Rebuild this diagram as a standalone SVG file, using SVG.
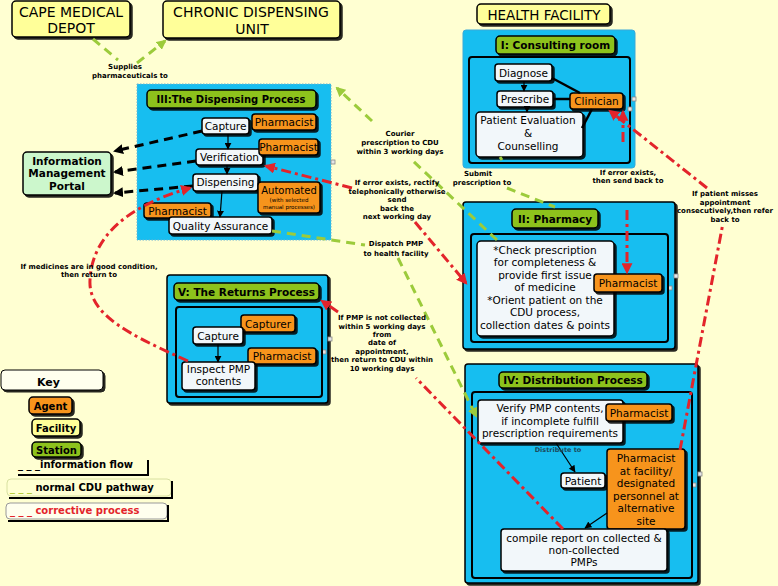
<svg xmlns="http://www.w3.org/2000/svg" width="778" height="586" viewBox="0 0 778 586">
<defs>
<filter id="sh" x="-10%" y="-10%" width="130%" height="140%">
<feFlood flood-color="#000" flood-opacity="0.85"/>
<feComposite in2="SourceAlpha" operator="in"/>
<feOffset dx="2" dy="2"/>
<feMerge><feMergeNode/><feMergeNode in="SourceGraphic"/></feMerge>
</filter>
<marker id="ag" viewBox="0 0 10 10" refX="8" refY="5" markerWidth="10" markerHeight="10" markerUnits="userSpaceOnUse" orient="auto"><path d="M0,0 L10,5 L0,10 z" fill="#9CCB3B"/></marker>
<marker id="ab" viewBox="0 0 10 10" refX="8" refY="5" markerWidth="10" markerHeight="10" markerUnits="userSpaceOnUse" orient="auto"><path d="M0,0 L10,5 L0,10 z" fill="#000"/></marker>
<marker id="ar" viewBox="0 0 10 10" refX="8" refY="5" markerWidth="11" markerHeight="11" markerUnits="userSpaceOnUse" orient="auto"><path d="M0,0 L10,5 L0,10 z" fill="#E3242B"/></marker>
<marker id="as" viewBox="0 0 10 10" refX="9" refY="5" markerWidth="7" markerHeight="7" markerUnits="userSpaceOnUse" orient="auto"><path d="M0,0 L10,5 L0,10 z" fill="#000"/></marker>
<style>
text{font-family:"DejaVu Sans",Verdana,sans-serif;font-size:10.5px;text-anchor:middle;fill:#000}
.b{font-weight:bold}
.lb{font-size:7px;font-weight:bold}
.fac{fill:#FFFF99;stroke:#000;stroke-width:1.5}
.st{fill:#8DC21F;stroke:#000;stroke-width:1.5}
.agt{fill:#F7941D;stroke:#000;stroke-width:1.5}
.nd{fill:#F2F7FA;stroke:#000;stroke-width:1.5}
.zone{fill:#17BEF0;stroke:#000;stroke-width:1.5}
.inr{fill:#17BEF0;stroke:#000;stroke-width:2}
.hd{fill:#E6E6E6;stroke:#888;stroke-width:0.8}
.gr{fill:none;stroke:#9CCB3B;stroke-width:3;stroke-dasharray:9 6}
.bk{fill:none;stroke:#000;stroke-width:3;stroke-dasharray:9 6}
.rd{fill:none;stroke:#E3242B;stroke-width:3;stroke-dasharray:10 4 3 4}
.sl{fill:none;stroke:#000;stroke-width:2.5}
.sa{fill:none;stroke:#000;stroke-width:1.2}
.kt{font-size:10px;font-weight:bold;text-anchor:start}
</style>
</defs>
<rect x="0" y="0" width="778" height="586" fill="#FFFFD2"/>

<g id="n-cape"><rect class="fac" x="12" y="1" width="118" height="36" rx="4" filter="url(#sh)"/><text x="71" y="17" style="font-size:14px">CAPE MEDICAL</text><text x="71" y="33" style="font-size:14px">DEPOT</text></g>
<g id="n-cdu"><rect class="fac" x="163" y="1" width="177" height="37" rx="4" filter="url(#sh)"/><text x="251" y="17" style="font-size:14px">CHRONIC DISPENSING</text><text x="252" y="34" style="font-size:14px">UNIT</text></g>
<g id="n-hf"><rect class="fac" x="477" y="4" width="133" height="20" rx="4" filter="url(#sh)"/><text x="544" y="20" style="font-size:13.5px">HEALTH FACILITY</text></g>

<g id="n-imp"><rect x="23" y="152" width="88" height="43" rx="4" fill="#CCF7CC" stroke="#000" stroke-width="1.5" filter="url(#sh)"/><text class="b" x="67" y="165">Information</text><text class="b" x="67" y="177">Management</text><text class="b" x="67" y="190">Portal</text></g>

<g id="z-dispensing">
<rect x="137" y="84" width="194" height="156" fill="#17BEF0" stroke="#6FB3CF" stroke-width="1" stroke-dasharray="1.5 1.5"/>
<rect class="hd" x="331" y="160" width="4" height="4"/>
<g id="n-disp-head"><rect class="st" x="147" y="90" width="169" height="18" rx="4" filter="url(#sh)"/><text class="b" x="231" y="103" style="font-size:10px">III:The Dispensing Process</text></g>
<g id="n-d-capture"><rect class="nd" x="202" y="118" width="47" height="16" rx="3" fill="#fff" filter="url(#sh)"/><text x="225.5" y="130">Capture</text></g>
<g id="n-d-ph1"><rect class="agt" x="252" y="114" width="64" height="16" rx="3" filter="url(#sh)"/><text x="284" y="126">Pharmacist</text></g>
<g id="n-d-verif"><rect class="nd" x="196" y="149" width="67" height="16" rx="3" filter="url(#sh)"/><text x="229.5" y="161">Verification</text></g>
<g id="n-d-ph2"><rect class="agt" x="259" y="139" width="59" height="16" rx="3" filter="url(#sh)"/><text x="288.5" y="151">Pharmacist</text></g>
<g id="n-d-disp"><rect class="nd" x="193" y="174" width="65" height="17" rx="3" filter="url(#sh)"/><text x="225.5" y="186">Dispensing</text></g>
<g id="n-d-auto"><rect class="agt" x="258" y="182" width="62" height="31" rx="3" filter="url(#sh)"/><text x="289" y="194" style="font-size:10px">Automated</text><text x="289" y="202" style="font-size:5.5px">(with selected</text><text x="289" y="209" style="font-size:5.5px">manual processes)</text></g>
<g id="n-d-ph3"><rect class="agt" x="144" y="203" width="67" height="15" rx="3" filter="url(#sh)"/><text x="177.5" y="214.5">Pharmacist</text></g>
<g id="n-d-qa"><rect class="nd" x="169" y="217" width="103" height="17" rx="3" filter="url(#sh)"/><text x="220.5" y="229.5">Quality Assurance</text></g>
</g>

<g id="z-consulting">
<rect x="463" y="30" width="172" height="138" rx="3" fill="#17BEF0" stroke="#3AA9D9" stroke-width="1"/>
<rect class="inr" x="469" y="57" width="161" height="106" rx="3"/>
<rect class="hd" x="632" y="97" width="4" height="4"/><rect class="hd" x="628" y="107" width="4" height="4"/>
<g id="n-c-head"><rect class="st" x="496" y="36" width="119" height="18" rx="4" filter="url(#sh)"/><text class="b" x="555.5" y="49">I: Consulting room</text></g>
<g id="n-c-diag"><rect class="nd" x="495" y="64" width="57" height="17" rx="3" filter="url(#sh)"/><text x="523.5" y="76.5">Diagnose</text></g>
<g id="n-c-presc"><rect class="nd" x="497" y="91" width="56" height="16" rx="3" filter="url(#sh)"/><text x="525" y="103">Prescribe</text></g>
<g id="n-c-eval"><rect class="nd" x="476" y="112" width="107" height="45" rx="4" filter="url(#sh)"/><text x="528" y="124">Patient Evaluation</text><text x="528" y="137">&amp;</text><text x="528" y="150">Counselling</text></g>
<g id="n-c-clin"><rect class="agt" x="570" y="93" width="53" height="16" rx="3" filter="url(#sh)"/><text x="596.5" y="105">Clinician</text></g>
</g>

<g id="z-pharmacy">
<rect class="zone" x="463" y="202" width="212" height="147" rx="3" filter="url(#sh)"/>
<rect class="hd" x="674" y="274" width="4" height="4"/><rect class="hd" x="668" y="286" width="4" height="4"/>
<g id="n-p-head"><rect class="st" x="512" y="209" width="86" height="19" rx="4" filter="url(#sh)"/><text class="b" x="555" y="222.5">II: Pharmacy</text></g>
<rect class="inr" x="471" y="234" width="197" height="108" rx="3"/>
<g id="n-p-task"><rect class="nd" x="477" y="241" width="137" height="95" rx="4" filter="url(#sh)"/>
<text x="545" y="253.5">*Check prescription</text><text x="545" y="266">for completeness &amp;</text><text x="545" y="278.5">provide first issue</text><text x="545" y="291">of medicine</text><text x="545" y="303.5">*Orient patient on the</text><text x="545" y="316">CDU process,</text><text x="545" y="328.5">collection dates &amp; points</text></g>
<g id="n-p-ph"><rect class="agt" x="594" y="274" width="68" height="18" rx="3" filter="url(#sh)"/><text x="628" y="287">Pharmacist</text></g>
</g>

<g id="z-returns">
<rect class="zone" x="167" y="275" width="161" height="128" rx="3" filter="url(#sh)"/>
<rect class="hd" x="328" y="337" width="4" height="4"/><rect class="hd" x="322" y="350" width="4" height="4"/>
<g id="n-r-head"><rect class="st" x="174" y="283" width="145" height="17" rx="4" filter="url(#sh)"/><text class="b" x="246.5" y="295.5">V: The Returns Process</text></g>
<rect class="inr" x="176" y="307" width="146" height="90" rx="3"/>
<g id="n-r-capturer"><rect class="agt" x="241" y="315" width="54" height="17" rx="3" filter="url(#sh)"/><text x="268" y="327.5">Capturer</text></g>
<g id="n-r-capture"><rect class="nd" x="193" y="327" width="50" height="17" rx="3" filter="url(#sh)"/><text x="218" y="339.5">Capture</text></g>
<g id="n-r-ph"><rect class="agt" x="248" y="348" width="68" height="16" rx="3" filter="url(#sh)"/><text x="282" y="360">Pharmacist</text></g>
<g id="n-r-inspect"><rect class="nd" x="182" y="362" width="73" height="28" rx="3" filter="url(#sh)"/><text x="218.5" y="373">Inspect PMP</text><text x="218.5" y="385">contents</text></g>
</g>

<g id="z-distribution">
<rect class="zone" x="465" y="364" width="233" height="219" rx="3" filter="url(#sh)"/>
<rect class="hd" x="698" y="472" width="4" height="4"/><rect class="hd" x="692" y="483" width="4" height="4"/>
<g id="n-i-head"><rect class="st" x="499" y="372" width="148" height="16" rx="4" filter="url(#sh)"/><text class="b" x="573" y="384">IV: Distribution Process</text></g>
<rect class="inr" x="472" y="392" width="220" height="186" rx="3"/>
<g id="n-i-verify"><rect class="nd" x="478" y="400" width="145" height="43" rx="3" filter="url(#sh)"/><text x="550" y="412">Verify PMP contents,</text><text x="550" y="425">if incomplete fulfill</text><text x="550" y="437">prescription requirements</text></g>
<g id="n-i-ph"><rect class="agt" x="606" y="404" width="66" height="17" rx="3" filter="url(#sh)"/><text x="639" y="416.5">Pharmacist</text></g>
<g id="n-i-patient"><rect class="nd" x="561" y="473" width="44" height="15" rx="3" filter="url(#sh)"/><text x="583" y="484.5">Patient</text></g>
<g id="n-i-phfac"><rect class="agt" x="607" y="449" width="78" height="80" rx="3" filter="url(#sh)"/><text x="646" y="462">Pharmacist</text><text x="646" y="475">at facility/</text><text x="646" y="487">designated</text><text x="646" y="500">personnel at</text><text x="646" y="512">alternative</text><text x="646" y="525">site</text></g>
<g id="n-i-report"><rect class="nd" x="501" y="529" width="166" height="42" rx="3" filter="url(#sh)"/><text x="584" y="542">compile report on collected &amp;</text><text x="584" y="554">non-collected</text><text x="584" y="566">PMPs</text></g>
</g>

<g id="key">
<g id="k-key"><rect x="1" y="370" width="102" height="20" rx="4" fill="#FFFFEE" stroke="#000" stroke-width="1" filter="url(#sh)"/><text class="b" x="48.5" y="386" style="font-size:11px">Key</text></g>
<g id="k-agent"><rect class="agt" x="29" y="397" width="43" height="17" rx="4" filter="url(#sh)"/><text class="b" x="50.5" y="409.5" style="font-size:10px">Agent</text></g>
<g id="k-fac"><rect class="fac" x="32" y="419" width="48" height="17" rx="4" filter="url(#sh)"/><text class="b" x="56" y="431.5" style="font-size:10px">Facility</text></g>
<g id="k-station"><rect class="st" x="32" y="442" width="49" height="15" rx="4" filter="url(#sh)"/><text class="b" x="56.5" y="453.5" style="font-size:10px">Station</text></g>
<g id="k-info"><path d="M148,460 L148,475 L18,475" fill="none" stroke="#000" stroke-width="2"/><text class="kt" x="18" y="468">_ _ _information flow</text></g>
<g id="k-normal"><rect x="7" y="479" width="164" height="17" rx="4" fill="#FFFFD2" stroke="#D8E0A0" stroke-width="1"/><path d="M172,481 L172,498 L9,498" fill="none" stroke="#000" stroke-width="2"/><text class="kt" x="10" y="491"><tspan fill="#B8D040">_ _ _ </tspan>normal CDU pathway</text></g>
<g id="k-corr"><rect x="6" y="503" width="161" height="16" rx="4" fill="#FFFFEE" stroke="#999" stroke-width="1"/><path d="M168,505 L168,521 L8,521" fill="none" stroke="#000" stroke-width="2"/><text class="kt" x="10" y="514" style="fill:#E3242B">_ _ _ corrective process</text></g>
</g>

<g id="connectors">
<path class="sl" d="M552,78 L580,93"/>
<path class="sl" d="M553,99 L570,99"/>
<path class="sl" d="M582,128 L592,109"/>
<path class="sa" d="M524,81 L524,91" marker-end="url(#as)"/>
<path class="sa" d="M527,107 L527,112" marker-end="url(#as)"/>
<path class="sa" d="M228,134 L228,149" marker-end="url(#as)"/>
<path class="sa" d="M227,165 L227,174" marker-end="url(#as)"/>
<path class="sa" d="M222,191 L220,217" marker-end="url(#as)"/>
<path class="sa" d="M218,344 L218,362" marker-end="url(#as)" stroke-width="2"/>
<path class="sa" d="M556,443 L575,472" marker-end="url(#as)" stroke-width="2"/>
<path class="sa" d="M607,513 L585,528" marker-end="url(#as)" stroke-width="2"/>

<path class="gr" d="M93,39 L118,60"/>
<path class="gr" d="M137,63 L165,41" marker-end="url(#ag)"/>
<text class="lb" x="125" y="69">Supplies</text><text class="lb" x="130" y="78">pharmaceuticals to</text>
<path class="gr" d="M497,240 L412,160"/>
<path class="gr" d="M372,121 L337,88" marker-end="url(#ag)"/>
<text class="lb" x="400" y="136">Courier</text><text class="lb" x="400" y="145">prescription to CDU</text><text class="lb" x="400" y="154">within 3 working days</text>
<path class="gr" d="M500,157 L502,160"/>
<path class="gr" d="M507,188 L555,207"/>
<text class="lb" x="478" y="176">Submit</text><text class="lb" x="482" y="185">prescription to</text>
<path class="gr" d="M272,231 L365,245"/>
<path class="gr" d="M398,258 L476,416" marker-end="url(#ag)"/>
<text class="lb" x="396" y="246">Dispatch PMP</text><text class="lb" x="396" y="256">to health facility</text>

<path class="bk" d="M202,131 L115,151" marker-end="url(#ab)"/>
<path class="bk" d="M196,161 L115,172" marker-end="url(#ab)"/>
<path class="bk" d="M193,186 L115,193" marker-end="url(#ab)"/>

<path class="rd" d="M188,361 C130,335 88,315 90,280 C92,235 130,205 190,188" marker-end="url(#ar)"/>
<text class="lb" x="89" y="269">If medicines are in good condition,</text><text class="lb" x="89" y="277">then return to</text>
<path class="rd" d="M563,529 L416,378"/>
<path class="rd" d="M338,312 L322,301" marker-end="url(#ar)"/>
<text class="lb" x="382" y="320">If PMP is not collected</text><text class="lb" x="382" y="328.5">within 5 working days</text><text class="lb" x="382" y="337">from</text><text class="lb" x="382" y="345">date of</text><text class="lb" x="382" y="353.5">appointment,</text><text class="lb" x="382" y="362">then return to CDU within</text><text class="lb" x="382" y="371">10 working days</text>
<path class="rd" d="M352,188 L266,166" marker-end="url(#ar)"/>
<path class="rd" d="M415,222 L466,283" marker-end="url(#ar)"/>
<text class="lb" x="397" y="185">If error exists, rectify</text><text class="lb" x="397" y="193.5">telephonically otherwise</text><text class="lb" x="397" y="202">send</text><text class="lb" x="397" y="210.5">back the</text><text class="lb" x="397" y="219">next working day</text>
<path class="rd" d="M623,142 L623,112" marker-end="url(#ar)"/>
<path class="rd" d="M627,210 L627,272" marker-end="url(#ar)"/>
<text class="lb" x="628" y="175">If error exists,</text><text class="lb" x="628" y="183">then send back to</text>
<path class="rd" d="M680,450 L723,223"/>
<path class="rd" d="M707,188 L610,111" marker-end="url(#ar)"/>
<text class="lb" x="725" y="196">If patient misses</text><text class="lb" x="725" y="204.5">appointment</text><text class="lb" x="725" y="213">consecutively,then refer</text><text class="lb" x="725" y="221.5">back to</text>
<text class="lb" x="558" y="452" style="font-size:6.5px;fill:#1B4A5C">Distribute to</text>
</g>
</svg>
